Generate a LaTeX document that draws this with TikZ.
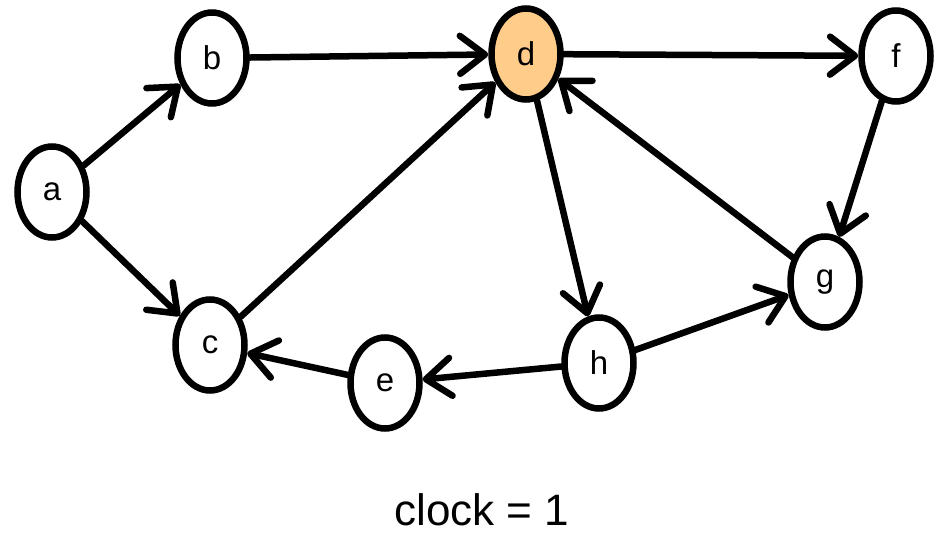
\documentclass[tikz,border=0pt]{standalone}
\usepackage{fontspec}
\setmainfont{Liberation Sans}
\usetikzlibrary{arrows.meta,shapes.geometric}
\definecolor{visited}{RGB}{255,204,138}
\tikzset{
  vertex/.style={ellipse, draw, line width=6.5pt, minimum width=69pt, minimum height=91pt,
                 inner sep=0pt, fill=white, font=\fontsize{33}{33}\selectfont},
  edge/.style={line width=6.5pt, line cap=round,
               -{Straight Barb[length=25pt,width=38pt,line width=6.5pt,line cap=round,line join=round]}},
  caption/.style={inner sep=0pt, font=\fontsize{44}{44}\selectfont}
}
\begin{document}
\begin{tikzpicture}[x=1pt,y=-1pt]
\useasboundingbox (0,0) rectangle (938,534);
\node[vertex] (a) at (52,192) {a};
\node[vertex] (b) at (212,58) {b};
\node[vertex] (c) at (210,345) {c};
\node[vertex, fill=visited] (d) at (526,54) {d};
\node[vertex] (e) at (385,383) {e};
\node[vertex] (f) at (896,56) {f};
\node[vertex] (g) at (825,282) {g};
\node[vertex] (h) at (599,363) {h};
\node[caption] (clk) at (482,510) {clock = 1};
\draw[edge] (a) -- (b);
\draw[edge] (a) -- (c);
\draw[edge] (b) -- (d);
\draw[edge] (c) -- (d);
\draw[edge] (d) -- (f);
\draw[edge] (d) -- (h);
\draw[edge] (f) -- (g);
\draw[edge] (g) -- (d);
\draw[edge] (h) -- (e);
\draw[edge] (e) -- (c);
\draw[edge] (h) -- (g);
\end{tikzpicture}
\end{document}
